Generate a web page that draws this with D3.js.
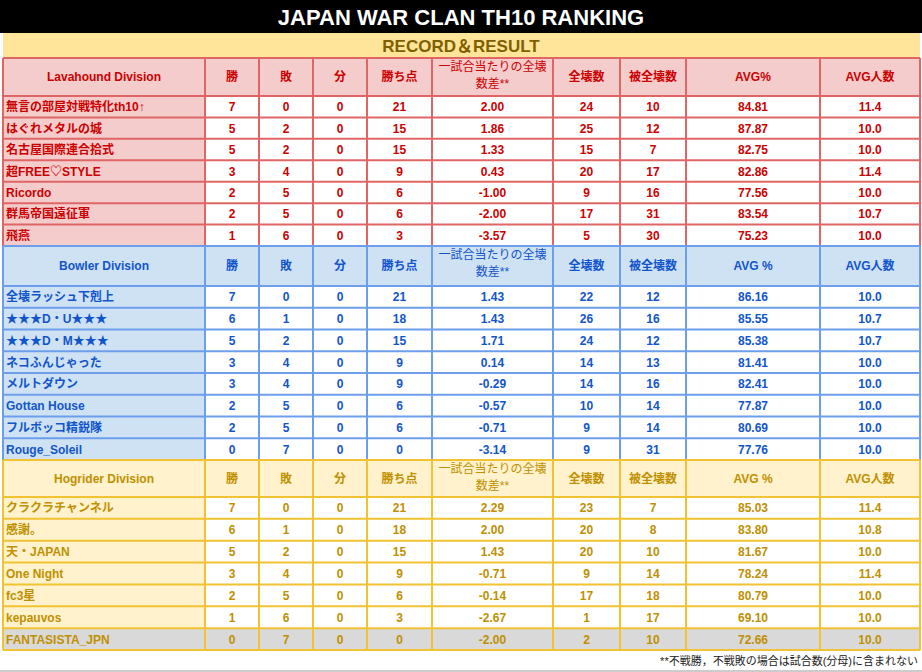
<!DOCTYPE html>
<html><head><meta charset="utf-8">
<script src="https://cdn.jsdelivr.net/npm/d3@7"></script>
<style>body{margin:0;background:#fff}text{font-family:Arial,"Liberation Sans","Noto Sans CJK JP",sans-serif;font-weight:bold}</style>
</head><body><div id="chart"></div>
<script>
const title = 'JAPAN WAR CLAN TH10 RANKING';
const subtitle = 'RECORD＆RESULT';
const columns = ['勝', '敗', '分', '勝ち点', '一試合当たりの全壊\n数差**', '全壊数', '被全壊数', 'AVG%', 'AVG人数'];
const footnote = '**不戦勝，不戦敗の場合は試合数(分母)に含まれない';

const lavaClans = ['無言の部屋対戦特化th10↑', 'はぐれメタルの城', '名古屋国際連合拾式', '超FREE♡STYLE', 'Ricordo', '群馬帝国遠征軍', '飛燕'];
const lavaValues = [
  [7, 0, 0, 21, '2.00', 24, 10, '84.81', '11.4'],
  [5, 2, 0, 15, '1.86', 25, 12, '87.87', '10.0'],
  [5, 2, 0, 15, '1.33', 15, 7, '82.75', '10.0'],
  [3, 4, 0, 9, '0.43', 20, 17, '82.86', '11.4'],
  [2, 5, 0, 6, '-1.00', 9, 16, '77.56', '10.0'],
  [2, 5, 0, 6, '-2.00', 17, 31, '83.54', '10.7'],
  [1, 6, 0, 3, '-3.57', 5, 30, '75.23', '10.0'],
];
const bowlerClans = ['全壊ラッシュ下剋上', '★★★D・U★★★', '★★★D・M★★★', 'ネコふんじゃった', 'メルトダウン', 'Gottan House', 'フルボッコ精鋭隊', 'Rouge_Soleil'];
const bowlerValues = [
  [7, 0, 0, 21, '1.43', 22, 12, '86.16', '10.0'],
  [6, 1, 0, 18, '1.43', 26, 16, '85.55', '10.7'],
  [5, 2, 0, 15, '1.71', 24, 12, '85.38', '10.7'],
  [3, 4, 0, 9, '0.14', 14, 13, '81.41', '10.0'],
  [3, 4, 0, 9, '-0.29', 14, 16, '82.41', '10.0'],
  [2, 5, 0, 6, '-0.57', 10, 14, '77.87', '10.0'],
  [2, 5, 0, 6, '-0.71', 9, 14, '80.69', '10.0'],
  [0, 7, 0, 0, '-3.14', 9, 31, '77.76', '10.0'],
];
const hogClans = ['クラクラチャンネル', '感謝。', '天・JAPAN', 'One Night', 'fc3星', 'kepauvos', 'FANTASISTA_JPN'];
const hogValues = [
  [7, 0, 0, 21, '2.29', 23, 7, '85.03', '11.4'],
  [6, 1, 0, 18, '2.00', 20, 8, '83.80', '10.8'],
  [5, 2, 0, 15, '1.43', 20, 10, '81.67', '10.0'],
  [3, 4, 0, 9, '-0.71', 9, 14, '78.24', '11.4'],
  [2, 5, 0, 6, '-0.14', 17, 18, '80.79', '10.0'],
  [1, 6, 0, 3, '-2.67', 1, 17, '69.10', '10.0'],
  [0, 7, 0, 0, '-2.00', 2, 10, '72.66', '10.0'],
];

const sections = [
  { name: 'Lavahound Division', clans: lavaClans, values: lavaValues, top: 58, head: 38, bottom: 246,
    text: '#cc0000', border: '#e06666', fill: '#f4cccc', avg: 'AVG%' },
  { name: 'Bowler Division', clans: bowlerClans, values: bowlerValues, top: 246, head: 40, bottom: 460,
    text: '#1155cc', border: '#6d9eeb', fill: '#cfe2f3', avg: 'AVG %' },
  { name: 'Hogrider Division', clans: hogClans, values: hogValues, top: 460, head: 37, bottom: 650,
    text: '#bf9000', border: '#f1c232', fill: '#fff2cc', avg: 'AVG %', grey: 6 },
];

const W = 922, H = 672;
const edges = [3, 205, 259, 313, 367, 432, 553, 620, 686, 820, 920];
const x = d3.scaleOrdinal().domain(d3.range(11)).range(edges);

const svg = d3.select('#chart').append('svg').attr('width', W).attr('height', H);

svg.append('rect').attr('width', W).attr('height', 33).attr('fill', '#000');
svg.append('text').attr('x', W / 2).attr('y', 25).attr('text-anchor', 'middle')
  .attr('fill', '#fff').style('font-size', '22px').text(title);
svg.append('rect').attr('x', 3).attr('y', 33).attr('width', 917).attr('height', 25).attr('fill', '#ffe599');
svg.append('text').attr('x', W / 2).attr('y', 52).attr('text-anchor', 'middle')
  .attr('fill', '#7f6000').style('font-size', '17px').text(subtitle);

sections.forEach(s => {
  const g = svg.append('g');
  const y = d3.scaleBand().domain(d3.range(s.clans.length)).range([s.top + s.head, s.bottom]);
  // header
  g.append('rect').attr('x', x(0)).attr('y', s.top).attr('width', x(10) - x(0)).attr('height', s.head).attr('fill', s.fill);
  const heads = [s.name].concat(columns.map(c => c === 'AVG%' ? s.avg : c));
  heads.forEach((h, i) => {
    const lines = h.split('\n');
    const t = g.append('text').attr('x', (x(i) + x(i + 1)) / 2).attr('text-anchor', 'middle')
      .attr('fill', s.text).style('font-size', '12px')
      .style('font-weight', i === 5 ? 'normal' : 'bold');
    if (lines.length === 1) {
      t.attr('y', s.top + s.head / 2 + 4).text(h);
    } else {
      t.attr('y', s.top + 13).text(lines[0]);
      g.append('text').attr('x', (x(i) + x(i + 1)) / 2).attr('y', s.top + 30).attr('text-anchor', 'middle')
        .attr('fill', s.text).style('font-size', '12px').style('font-weight', 'normal').text(lines[1]);
    }
  });
  // rows
  s.clans.forEach((c, r) => {
    const y0 = y(r), bh = y.bandwidth();
    g.append('rect').attr('x', x(0)).attr('y', y0).attr('width', x(1) - x(0)).attr('height', bh)
      .attr('fill', s.grey === r ? '#d9d9d9' : s.fill);
    g.append('rect').attr('x', x(1)).attr('y', y0).attr('width', x(10) - x(1)).attr('height', bh)
      .attr('fill', s.grey === r ? '#d9d9d9' : '#fff');
    g.append('text').attr('x', x(0) + 3).attr('y', y0 + bh / 2 + 4.5).attr('fill', s.text)
      .style('font-size', '12px').text(c);
    s.values[r].forEach((v, i) => {
      g.append('text').attr('x', (x(i + 1) + x(i + 2)) / 2).attr('y', y0 + bh / 2 + 4.5)
        .attr('text-anchor', 'middle').attr('fill', s.text).style('font-size', '12px').text(v);
    });
  });
  // grid
  const ys = [s.top, s.top + s.head].concat(d3.range(1, s.clans.length + 1).map(r => y(r - 1) + y.bandwidth()));
  ys.forEach(yy => g.append('line').attr('x1', x(0)).attr('x2', x(10)).attr('y1', yy).attr('y2', yy)
    .attr('stroke', s.border).attr('stroke-width', 2));
  d3.range(11).forEach(i => g.append('line').attr('x1', x(i)).attr('x2', x(i)).attr('y1', s.top).attr('y2', s.bottom)
    .attr('stroke', s.border).attr('stroke-width', 2));
});

svg.append('text').attr('x', 918).attr('y', 665).attr('text-anchor', 'end').attr('fill', '#222')
  .style('font-size', '11px').style('font-weight', 'normal').text(footnote);
svg.append('line').attr('x1', 0).attr('x2', W).attr('y1', 671).attr('y2', 671).attr('stroke', '#ccc').attr('stroke-width', 2);
</script></body></html>
